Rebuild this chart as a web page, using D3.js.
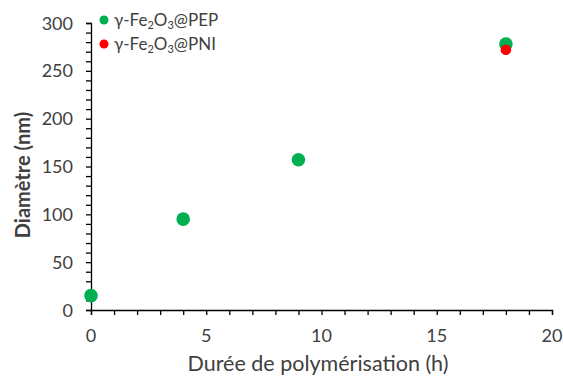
<!DOCTYPE html>
<html><head><meta charset="utf-8">
<script src="https://cdn.jsdelivr.net/npm/d3@7"></script>
<style>body{margin:0;background:#fff}svg{display:block}text{font-family:Lato, "Liberation Sans", sans-serif}</style>
</head><body>
<svg id="c" width="563" height="376"></svg>
<script>
const pepX = [0, 4, 9, 18];
const pepY = [15, 95, 157, 278];
const pniX = [18];
const pniY = [272];
const xTicks = [0, 5, 10, 15, 20];
const yTicks = [0, 50, 100, 150, 200, 250, 300];
const seriesNames = ["PEP", "PNI"];
const xTitle = "Durée de polymérisation (h)";
const yTitle = "Diamètre (nm)";

const svg = d3.select("#c");
const x = d3.scaleLinear().domain([0, 20]).range([91, 552]);
const y = d3.scaleLinear().domain([0, 300]).range([310, 23]);
const axisColor = "#000";
const textColor = "#404040";

// x axis
const gx = svg.append("g").attr("transform", `translate(0,${y(0)})`);
gx.call(d3.axisBottom(x).tickValues(d3.range(0, 21, 1)).tickSize(5).tickFormat(""));
gx.select(".domain").attr("stroke", axisColor).attr("stroke-width", 1.3);
gx.selectAll(".tick line").attr("stroke", axisColor).attr("stroke-width", 1.3);
svg.append("g").selectAll("text").data(xTicks).join("text")
  .attr("x", d => x(d)).attr("y", 342).attr("text-anchor", "middle")
  .attr("font-size", 18).attr("fill", textColor).text(d => d);

// y axis
const gy = svg.append("g").attr("transform", `translate(${x(0)},0)`);
gy.call(d3.axisLeft(y).tickValues(d3.range(0, 301, 10)).tickSize(5).tickFormat(""));
gy.select(".domain").attr("stroke", axisColor).attr("stroke-width", 1.3);
gy.selectAll(".tick line").attr("stroke", axisColor).attr("stroke-width", 1.3);
gy.append("g").selectAll("text").data(yTicks).join("text")
  .attr("x", -18).attr("y", d => y(d) + 6.5).attr("text-anchor", "end")
  .attr("font-size", 18).attr("fill", textColor).text(d => d);

// titles
svg.append("text").attr("x", 318).attr("y", 371).attr("text-anchor", "middle")
  .attr("font-size", 21.5).attr("fill", textColor).text(xTitle);
svg.append("text").attr("transform", "translate(30,175) rotate(-90)").attr("text-anchor", "middle")
  .attr("font-size", 20).attr("font-weight", "bold").attr("fill", textColor).text(yTitle);

// points
svg.append("g").selectAll("circle").data(pepX.map((d, i) => [d, pepY[i]])).join("circle")
  .attr("cx", d => x(d[0])).attr("cy", d => y(d[1])).attr("r", 6.8).attr("fill", "#00B050");
svg.append("g").selectAll("circle").data(pniX.map((d, i) => [d, pniY[i]])).join("circle")
  .attr("cx", d => x(d[0])).attr("cy", d => y(d[1])).attr("r", 5.3).attr("fill", "#FF0000");

// legend
const colors = ["#00B050", "#FF0000"];
const leg = svg.append("g");
seriesNames.forEach((n, i) => {
  const cy = 20 + i * 24;
  leg.append("circle").attr("cx", 104).attr("cy", cy).attr("r", 4.5).attr("fill", colors[i]);
  const t = leg.append("text").attr("x", 114).attr("y", cy + 6).attr("font-size", 17).attr("fill", textColor);
  t.append("tspan").text("γ-Fe");
  t.append("tspan").attr("font-size", 11).attr("dy", 3).text("2");
  t.append("tspan").attr("dy", -3).text("O");
  t.append("tspan").attr("font-size", 11).attr("dy", 3).text("3");
  t.append("tspan").attr("dy", -3).text("@" + n);
});
</script>
</body></html>
